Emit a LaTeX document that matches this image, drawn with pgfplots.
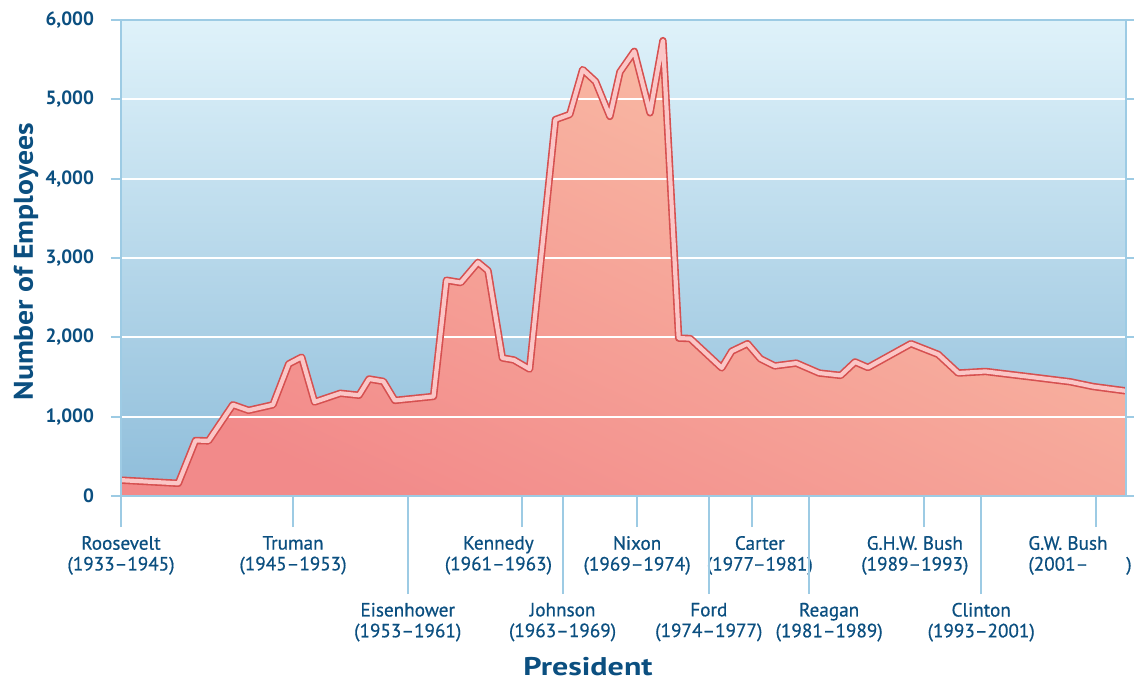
\documentclass[border=0pt]{standalone}
\usepackage{fontspec}
\setmainfont{PT Sans}
\newfontfamily\lblfont{PT Sans}[FakeBold=0.6]
\newfontfamily\ylabfont{PT Sans}[FakeStretch=1.1]
\newfontfamily\xlabfont{PT Sans}[FakeStretch=1.25]
\usepackage{pgfplots}
\pgfplotsset{compat=1.18}
\usepackage{pgfplotstable}

\definecolor{txt}{HTML}{0B4F80}
\definecolor{frame}{HTML}{9DCBE4}
\definecolor{bgtop}{HTML}{DFF2FA}
\definecolor{bgbot}{HTML}{8EBDDA}
\definecolor{arealow}{HTML}{F28A8A}
\definecolor{areahigh}{HTML}{FAC1A8}
\definecolor{lineout}{HTML}{D65050}
\definecolor{linein}{HTML}{FBC6C6}

% employees by year
\pgfplotstableread{
year   staff
1933   200
1937   160
1938.2 700
1939.1 695
1940.8 1150
1941.9 1080
1943.6 1150
1944.7 1665
1945.6 1750
1946.5 1185
1948.3 1295
1949.6 1270
1950.3 1475
1951.3 1445
1952.1 1205
1954.8 1255
1955.7 2720
1956.7 2690
1957.9 2945
1958.6 2840
1959.6 1740
1960.4 1715
1961.5 1600
1963.3 4745
1964.3 4810
1965.2 5375
1966.1 5225
1967.1 4785
1967.8 5345
1968.8 5605
1969.9 4830
1970.8 5740
1971.9 1990
1972.7 1985
1974.9 1615
1975.6 1825
1976.7 1920
1977.6 1730
1978.6 1640
1980.1 1675
1981.7 1550
1983.2 1520
1984.2 1690
1985.1 1620
1986.4 1750
1988.1 1920
1990.0 1785
1991.4 1550
1993.3 1570
1994.2 1550
1996.5 1500
1999.2 1440
2000.8 1380
2003.1 1325
}\staff

% two-line tick label, #1 = twice the sideways shift
\newcommand{\tl}[3]{\makebox[0pt]{\hspace*{#1}#2}\\\makebox[0pt]{\hspace*{#1}#3}}

\pgfplotsset{
  base/.style={scale only axis, width=502.5pt, height=238pt,
    xmin=1933, xmax=2003.1, ymin=0, ymax=6000},
  row/.style={base, hide y axis, axis x line*=bottom,
    axis line style={draw=none}, tick align=outside,
    major tick length=#1, tick style={frame, line width=1pt},
    xticklabel style={anchor=north, align=center, text=txt,
      font=\lblfont\fontsize{9.6}{10.4}\selectfont}},
}

\begin{document}
\begin{tikzpicture}
\begin{axis}[base, name=main, axis on top,
  axis line style={frame, line width=1.3pt},
  axis background/.style={top color=bgtop, bottom color=bgbot},
  xtick=\empty,
  ytick={0,1000,...,6000},
  tick align=outside, major tick length=5pt,
  tick style={frame, line width=1pt},
  /pgf/number format/assume math mode=true,
  scaled y ticks=false,
  yticklabel style={/pgf/number format/1000 sep={,}, text=txt,
    font=\bfseries\fontsize{9.6}{12}\selectfont, xshift=-5pt},
  xlabel={President}, ylabel={Number of Employees},
  every axis y label/.style={at={(axis description cs:-0.0945,0.492)},
    rotate=90, anchor=center, text=txt,
    font=\ylabfont\bfseries\fontsize{13.5}{16}\selectfont},
  every axis x label/.style={at={(axis description cs:0.4647,-0.358)},
    anchor=center, text=txt,
    font=\xlabfont\bfseries\fontsize{12.8}{15}\selectfont},
]
\addplot[draw=none, bottom color=arealow, top color=areahigh,
  shading angle=-25] table[x=year, y=staff] {\staff} \closedcycle;
\pgfplotsinvokeforeach{1000,2000,3000,4000,5000}{
  \addplot[white, line width=1pt] coordinates {(1933,#1) (2003.1,#1)};
}
\addplot[lineout, line width=0.8pt, double=linein, double distance=2.1pt,
  line join=round] table[x=year, y=staff] {\staff};
\end{axis}

% upper row of presidents, short ticks
\begin{axis}[row=15.5pt,
  xtick={1933,1945,1961,1969,1977,1989,2001},
  xticklabels={
    {\tl{0pt}{Roosevelt}{(1933–1945)}},
    {\tl{0pt}{Truman}{(1945–1953)}},
    {\tl{-24pt}{Kennedy}{(1961–1963)}},
    {\tl{0pt}{Nixon}{(1969–1974)}},
    {\tl{8pt}{Carter}{(1977–1981)}},
    {\tl{-9pt}{G.H.W. Bush}{(1989–1993)}},
    {\makebox[0pt][l]{\hspace*{-33.75pt}G.W. Bush}\\\makebox[0pt][l]{\hspace*{-33.75pt}(2001–\hspace{19pt})}}},
  xticklabel style={yshift=-1pt},
]
\end{axis}

% lower row of presidents, long ticks
\begin{axis}[row=49pt,
  xtick={1953,1963.8,1974,1981,1993},
  xticklabels={
    {\tl{0pt}{Eisenhower}{(1953–1961)}},
    {\tl{0pt}{Johnson}{(1963–1969)}},
    {\tl{0pt}{Ford}{(1974–1977)}},
    {\tl{20pt}{Reagan}{(1981–1989)}},
    {\tl{0pt}{Clinton}{(1993–2001)}}},
  xticklabel style={yshift=-0.9pt},
]
\end{axis}

\pgfresetboundingbox
\path ([shift={(-60.5pt,-92.5pt)}]main.south west)
  rectangle ([shift={(506.5pt,248pt)}]main.south west);
\end{tikzpicture}
\end{document}
